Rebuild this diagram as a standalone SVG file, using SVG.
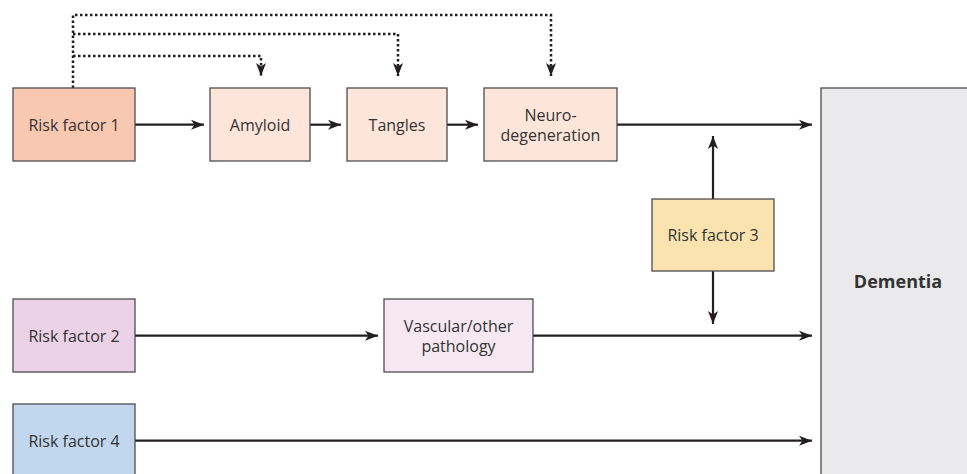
<svg xmlns="http://www.w3.org/2000/svg" width="967" height="474" viewBox="0 0 967 474">
<defs>
<marker id="ah" markerWidth="14" markerHeight="11" refX="13" refY="5.5" orient="auto" markerUnits="userSpaceOnUse">
<path d="M0,0.5 L13,5.5 L0,10.5 L3.5,5.5 Z" fill="#231f20"/>
</marker>
<style>
.box{stroke:#4d4d4f;stroke-width:1.3}
.t{font-family:"Open Sans","Liberation Sans",sans-serif;font-size:16px;fill:#333;text-anchor:middle}
.c{fill:none;stroke:#231f20;stroke-width:2.2}
.d{fill:none;stroke:#231f20;stroke-width:2.5;stroke-dasharray:2.5,2.5}
</style>
</defs>
<rect width="967" height="474" fill="#fff"/>
<g id="connectors">
<polyline class="d" points="73,88 73,15 551,15 551,76" marker-end="url(#ah)"/>
<polyline class="d" points="73,34 398,34 398,76" marker-end="url(#ah)"/>
<polyline class="d" points="73,56 261,56 261,76" marker-end="url(#ah)"/>
<line class="c" x1="135" y1="124.7" x2="204" y2="124.7" marker-end="url(#ah)"/>
<line class="c" x1="310" y1="124.7" x2="341" y2="124.7" marker-end="url(#ah)"/>
<line class="c" x1="447" y1="124.7" x2="478" y2="124.7" marker-end="url(#ah)"/>
<line class="c" x1="617" y1="124.7" x2="812" y2="124.7" marker-end="url(#ah)"/>
<line class="c" x1="713" y1="199" x2="713" y2="136" marker-end="url(#ah)"/>
<line class="c" x1="713" y1="271" x2="713" y2="324" marker-end="url(#ah)"/>
<line class="c" x1="135" y1="335.7" x2="378" y2="335.7" marker-end="url(#ah)"/>
<line class="c" x1="533" y1="335.7" x2="812" y2="335.7" marker-end="url(#ah)"/>
<line class="c" x1="135" y1="440.7" x2="812" y2="440.7" marker-end="url(#ah)"/>
</g>
<g id="rf1"><rect class="box" x="13" y="88" width="122" height="73" fill="#f9c8b1"/><text class="t" x="74" y="130.5">Risk factor 1</text></g>
<g id="amyloid"><rect class="box" x="210" y="88" width="100" height="73" fill="#fde5da"/><text class="t" x="260" y="130.5">Amyloid</text></g>
<g id="tangles"><rect class="box" x="347" y="88" width="100" height="73" fill="#fde5da"/><text class="t" x="397" y="130.5">Tangles</text></g>
<g id="neuro"><rect class="box" x="484" y="88" width="133" height="73" fill="#fde5da"/><text class="t" x="550.5" y="120.5">Neuro-</text><text class="t" x="550.5" y="141">degeneration</text></g>
<g id="rf3"><rect class="box" x="652" y="199" width="122" height="72" fill="#fae3af"/><text class="t" x="713" y="240.5">Risk factor 3</text></g>
<g id="rf2"><rect class="box" x="13" y="299" width="122" height="73" fill="#ebd2e6"/><text class="t" x="74" y="341.5">Risk factor 2</text></g>
<g id="vascular"><rect class="box" x="384" y="299" width="149" height="73" fill="#f6e8f1"/><text class="t" x="458.5" y="331.5">Vascular/other</text><text class="t" x="458.5" y="352">pathology</text></g>
<g id="rf4"><rect class="box" x="13" y="404" width="122" height="80" fill="#c1d7ee"/><text class="t" x="74" y="446.5">Risk factor 4</text></g>
<g id="dementia"><rect class="box" x="821" y="88" width="160" height="400" fill="#eaeaec"/><text class="t" x="898" y="288" style="font-weight:bold;font-size:18px">Dementia</text></g>
</svg>
